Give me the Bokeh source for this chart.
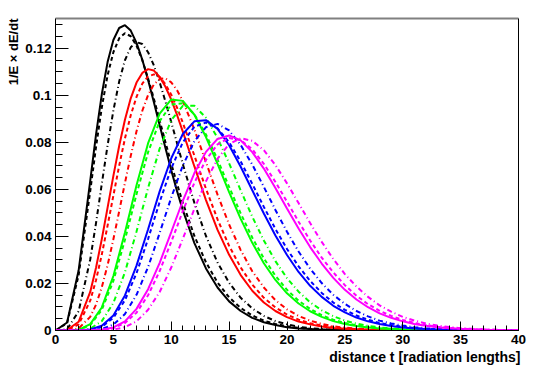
import math
from bokeh.plotting import figure
from bokeh.models import (Range1d, SingleIntervalTicker, FixedTicker, LinearAxis,
                          CustomJSTickFormatter, Title)
from bokeh.embed import file_html
from bokeh.resources import INLINE

# ---------------- data ----------------
t_fine = [0, 1, 2, 3, 3.5, 4, 4.5, 5, 5.5, 6, 6.5, 7, 7.5, 8, 8.5, 9, 9.5, 10, 10.5,
          11, 12, 13, 14, 15, 16, 17, 18, 19, 20, 21, 22, 23, 24, 25, 26, 27, 28, 29, 30,
          31, 32, 33, 34, 35, 36, 37, 38, 39, 40]
t = list(range(0, 41))

black_solid = [0, 0.0034, 0.0256, 0.0637, 0.0833, 0.1005, 0.1142, 0.1236, 0.1287, 0.1299,
               0.1276, 0.1224, 0.1152, 0.1066, 0.0971, 0.0873, 0.0776, 0.0682, 0.0593,
               0.0512, 0.0372, 0.0264, 0.0183, 0.0124, 0.0083, 0.0054, 0.0035, 0.0023, 0.0014,
               0.0009, 0.0006, 0.0003, 0.0002, 0.0001, 0.0001, 0, 0, 0, 0,
               0, 0, 0, 0, 0, 0, 0, 0, 0, 0]
black_dashed = [0, 0.0031, 0.0236, 0.0593, 0.0780, 0.0949, 0.1086, 0.1184, 0.1243, 0.1265,
                0.1252, 0.1212, 0.1150, 0.1072, 0.0986, 0.0894, 0.0801, 0.0710, 0.0624,
                0.0543, 0.0402, 0.0290, 0.0204, 0.0141, 0.0096, 0.0064, 0.0042, 0.0028, 0.0018,
                0.0011, 0.0007, 0.0005, 0.0003, 0.0002, 0.0001, 0.0001, 0, 0, 0,
                0, 0, 0, 0, 0, 0, 0, 0, 0, 0]
black_dashdot = [0, 0.0005, 0.0082, 0.0302, 0.0457, 0.0624, 0.0788, 0.0936, 0.1059, 0.1150,
                 0.1205, 0.1227, 0.1219, 0.1184, 0.1128, 0.1056, 0.0974, 0.0887, 0.0797,
                 0.0708, 0.0543, 0.0402, 0.0289, 0.0203, 0.0139, 0.0094, 0.0062, 0.0040, 0.0026,
                 0.0016, 0.0010, 0.0006, 0.0004, 0.0002, 0.0002, 0.0001, 0.0001, 0, 0,
                 0, 0, 0, 0, 0, 0, 0, 0, 0, 0]

red_solid = [0, 0.0002, 0.0037, 0.0164, 0.0267, 0.0389, 0.0523, 0.0658, 0.0785, 0.0897,
             0.0988, 0.1055, 0.1096, 0.1112, 0.1106, 0.1079, 0.1037, 0.0982, 0.0917,
             0.0846, 0.0698, 0.0555, 0.0428, 0.0322, 0.0236, 0.0169, 0.0119, 0.0083, 0.0057,
             0.0038, 0.0026, 0.0017, 0.0011, 0.0007, 0.0005, 0.0003, 0.0002, 0.0001, 0.0001,
             0, 0, 0, 0, 0, 0, 0, 0, 0, 0]
red_dashed = [0, 0.0001, 0.0026, 0.0127, 0.0214, 0.0323, 0.0446, 0.0574, 0.0701, 0.0817,
              0.0916, 0.0994, 0.1050, 0.1081, 0.1090, 0.1078, 0.1048, 0.1003, 0.0948,
              0.0884, 0.0744, 0.0603, 0.0473, 0.0360, 0.0268, 0.0195, 0.0139, 0.0098, 0.0068,
              0.0046, 0.0031, 0.0021, 0.0014, 0.0009, 0.0006, 0.0004, 0.0002, 0.0002, 0.0001,
              0.0001, 0, 0, 0, 0, 0, 0, 0, 0, 0]
red_dashdot = [0, 0, 0.0009, 0.0058, 0.0110, 0.0184, 0.0278, 0.0388, 0.0507, 0.0628,
               0.0743, 0.0848, 0.0935, 0.1002, 0.1047, 0.1070, 0.1073, 0.1056, 0.1022,
               0.0976, 0.0855, 0.0716, 0.0578, 0.0451, 0.0342, 0.0252, 0.0183, 0.0129, 0.0090,
               0.0062, 0.0042, 0.0028, 0.0018, 0.0012, 0.0008, 0.0005, 0.0003, 0.0002, 0.0001,
               0.0001, 0, 0, 0, 0, 0, 0, 0, 0, 0]

green_solid = [0, 0, 0.0003, 0.0027, 0.0098, 0.0232, 0.0417, 0.0618, 0.0797, 0.0923, 0.0983,
               0.0977, 0.0918, 0.0823, 0.0709, 0.0589, 0.0475, 0.0373, 0.0286, 0.0215, 0.0158,
               0.0115, 0.0082, 0.0058, 0.0040, 0.0028, 0.0019, 0.0013, 0.0008, 0.0006, 0.0004,
               0.0002, 0.0002, 0.0001, 0.0001, 0, 0, 0, 0, 0, 0]
green_dashed = [0, 0, 0.0003, 0.0023, 0.0088, 0.0211, 0.0386, 0.0580, 0.0759, 0.0891, 0.0961,
                0.0967, 0.0920, 0.0834, 0.0727, 0.0611, 0.0498, 0.0395, 0.0307, 0.0233, 0.0173,
                0.0127, 0.0092, 0.0065, 0.0046, 0.0032, 0.0022, 0.0015, 0.0010, 0.0007, 0.0004,
                0.0003, 0.0002, 0.0001, 0.0001, 0.0001, 0, 0, 0, 0, 0]
green_dashdot = [0, 0, 0.0001, 0.0008, 0.0040, 0.0117, 0.0248, 0.0421, 0.0607, 0.0774, 0.0895,
                 0.0956, 0.0956, 0.0905, 0.0819, 0.0711, 0.0596, 0.0484, 0.0383, 0.0295, 0.0223,
                 0.0165, 0.0120, 0.0086, 0.0061, 0.0042, 0.0029, 0.0020, 0.0013, 0.0009, 0.0006,
                 0.0004, 0.0002, 0.0002, 0.0001, 0.0001, 0, 0, 0, 0, 0]

blue_solid = [0, 0, 0, 0.0004, 0.0020, 0.0064, 0.0149, 0.0276, 0.0431, 0.0592, 0.0733,
              0.0836, 0.0890, 0.0895, 0.0858, 0.0788, 0.0697, 0.0597, 0.0498, 0.0404, 0.0321,
              0.0249, 0.0190, 0.0143, 0.0105, 0.0077, 0.0055, 0.0039, 0.0028, 0.0019, 0.0013,
              0.0009, 0.0006, 0.0004, 0.0003, 0.0002, 0.0001, 0.0001, 0.0001, 0, 0]
blue_dashed = [0, 0, 0, 0.0003, 0.0016, 0.0054, 0.0129, 0.0244, 0.0390, 0.0547, 0.0690,
               0.0801, 0.0867, 0.0885, 0.0860, 0.0801, 0.0719, 0.0624, 0.0526, 0.0432, 0.0347,
               0.0273, 0.0211, 0.0160, 0.0119, 0.0088, 0.0064, 0.0046, 0.0032, 0.0023, 0.0016,
               0.0011, 0.0007, 0.0005, 0.0003, 0.0002, 0.0001, 0.0001, 0.0001, 0, 0]
blue_dashdot = [0, 0, 0, 0.0001, 0.0006, 0.0025, 0.0070, 0.0152, 0.0270, 0.0415, 0.0566,
                0.0702, 0.0806, 0.0865, 0.0879, 0.0851, 0.0789, 0.0706, 0.0611, 0.0513, 0.0420,
                0.0336, 0.0263, 0.0202, 0.0152, 0.0113, 0.0083, 0.0060, 0.0042, 0.0030, 0.0021,
                0.0014, 0.0010, 0.0007, 0.0004, 0.0003, 0.0002, 0.0001, 0.0001, 0.0001, 0]

magenta_solid = [0, 0, 0, 0, 0.0003, 0.0013, 0.0039, 0.0092, 0.0176, 0.0288, 0.0419,
                 0.0552, 0.0670, 0.0760, 0.0815, 0.0830, 0.0809, 0.0759, 0.0689, 0.0606, 0.0519,
                 0.0434, 0.0355, 0.0285, 0.0224, 0.0173, 0.0132, 0.0099, 0.0073, 0.0054, 0.0039,
                 0.0028, 0.0020, 0.0014, 0.0010, 0.0007, 0.0005, 0.0003, 0.0002, 0.0001, 0.0001]
magenta_dashed = [0, 0, 0, 0, 0.0002, 0.0010, 0.0032, 0.0076, 0.0150, 0.0253, 0.0377,
                  0.0508, 0.0629, 0.0726, 0.0792, 0.0819, 0.0810, 0.0771, 0.0709, 0.0632, 0.0548,
                  0.0463, 0.0383, 0.0310, 0.0247, 0.0193, 0.0148, 0.0112, 0.0084, 0.0062, 0.0045,
                  0.0032, 0.0023, 0.0016, 0.0011, 0.0008, 0.0005, 0.0004, 0.0003, 0.0002, 0.0001]
magenta_dashdot = [0, 0, 0, 0, 0.0001, 0.0004, 0.0014, 0.0039, 0.0088, 0.0164, 0.0268,
                   0.0390, 0.0518, 0.0635, 0.0731, 0.0793, 0.0818, 0.0807, 0.0767, 0.0704, 0.0626,
                   0.0542, 0.0457, 0.0377, 0.0304, 0.0240, 0.0187, 0.0143, 0.0107, 0.0080, 0.0058,
                   0.0042, 0.0030, 0.0021, 0.0015, 0.0010, 0.0007, 0.0005, 0.0003, 0.0002, 0.0002]

x_ticks_interval = 5
y_ticks_interval = 0.02
x_title = "distance t [radiation lengths]"
y_title = "1/E \u00d7 dE/dt"

series = [
    (t_fine, black_solid, "#000000", "solid"),
    (t_fine, black_dashed, "#000000", "dashed"),
    (t_fine, black_dashdot, "#000000", "dashdot"),
    (t_fine, red_solid, "#ff0000", "solid"),
    (t_fine, red_dashed, "#ff0000", "dashed"),
    (t_fine, red_dashdot, "#ff0000", "dashdot"),
    (t, green_solid, "#00ff00", "solid"),
    (t, green_dashed, "#00ff00", "dashed"),
    (t, green_dashdot, "#00ff00", "dashdot"),
    (t, blue_solid, "#0000ff", "solid"),
    (t, blue_dashed, "#0000ff", "dashed"),
    (t, blue_dashdot, "#0000ff", "dashdot"),
    (t, magenta_solid, "#ff00ff", "solid"),
    (t, magenta_dashed, "#ff00ff", "dashed"),
    (t, magenta_dashdot, "#ff00ff", "dashdot"),
]
dash_map = {"solid": "solid", "dashed": "4 3", "dashdot": "5 3 1 3"}

# ---------------- figure ----------------
FONT = "Liberation Sans"
Y_TOP = 0.13275

p = figure(width=545, height=368, output_backend="svg", toolbar_location=None,
           title=None, x_range=Range1d(0, 40), y_range=Range1d(0, Y_TOP),
           min_border_left=55, min_border_right=27, min_border_top=18,
           min_border_bottom=38)
p.grid.visible = False
p.outline_line_color = None
p.background_fill_color = "white"
p.border_fill_color = "white"

for xs, ys, col, sty in series:
    p.line(xs, ys, line_color=col, line_width=2, line_dash=dash_map[sty])

xa = p.xaxis[0]
xa.ticker = SingleIntervalTicker(interval=x_ticks_interval, num_minor_ticks=5)
xa.major_tick_in = 9
xa.major_tick_out = 0
xa.minor_tick_in = 5
xa.minor_tick_out = 0
xa.major_label_standoff = 4

ya = p.yaxis[0]
ya.ticker = SingleIntervalTicker(interval=y_ticks_interval, num_minor_ticks=4)
ya.formatter = CustomJSTickFormatter(
    code="var s = tick.toFixed(2); s = s.replace(/0+$/, ''); s = s.replace(/\\.$/, ''); return s;")
ya.major_tick_in = 13
ya.major_tick_out = 0
ya.minor_tick_in = 7
ya.minor_tick_out = 0
ya.major_label_standoff = 4

for ax in (xa, ya):
    ax.axis_line_color = "black"
    ax.axis_line_width = 1
    ax.major_tick_line_color = "black"
    ax.minor_tick_line_color = "black"
    ax.major_label_text_font = FONT
    ax.major_label_text_font_style = "bold"
    ax.major_label_text_font_size = "13.5px"
    ax.major_label_text_color = "black"

top_ax = LinearAxis(ticker=FixedTicker(ticks=[]), axis_line_color="#808080",
                    axis_line_width=2, major_tick_line_color=None,
                    minor_tick_line_color=None, major_label_text_font_size="0px")
right_ax = LinearAxis(ticker=FixedTicker(ticks=[]), axis_line_color="black",
                      axis_line_width=1, major_tick_line_color=None,
                      minor_tick_line_color=None, major_label_text_font_size="0px")
p.add_layout(top_ax, "above")
p.add_layout(right_ax, "right")

p.add_layout(Title(text=x_title, align="right", offset=-2, standoff=0,
                   text_font=FONT, text_font_style="bold", text_font_size="14px",
                   text_color="black"), "below")
p.add_layout(Title(text=y_title, align="right", standoff=4,
                   text_font=FONT, text_font_style="bold", text_font_size="13px",
                   text_color="black"), "left")

open("out.html", "w").write(file_html(p, INLINE))
